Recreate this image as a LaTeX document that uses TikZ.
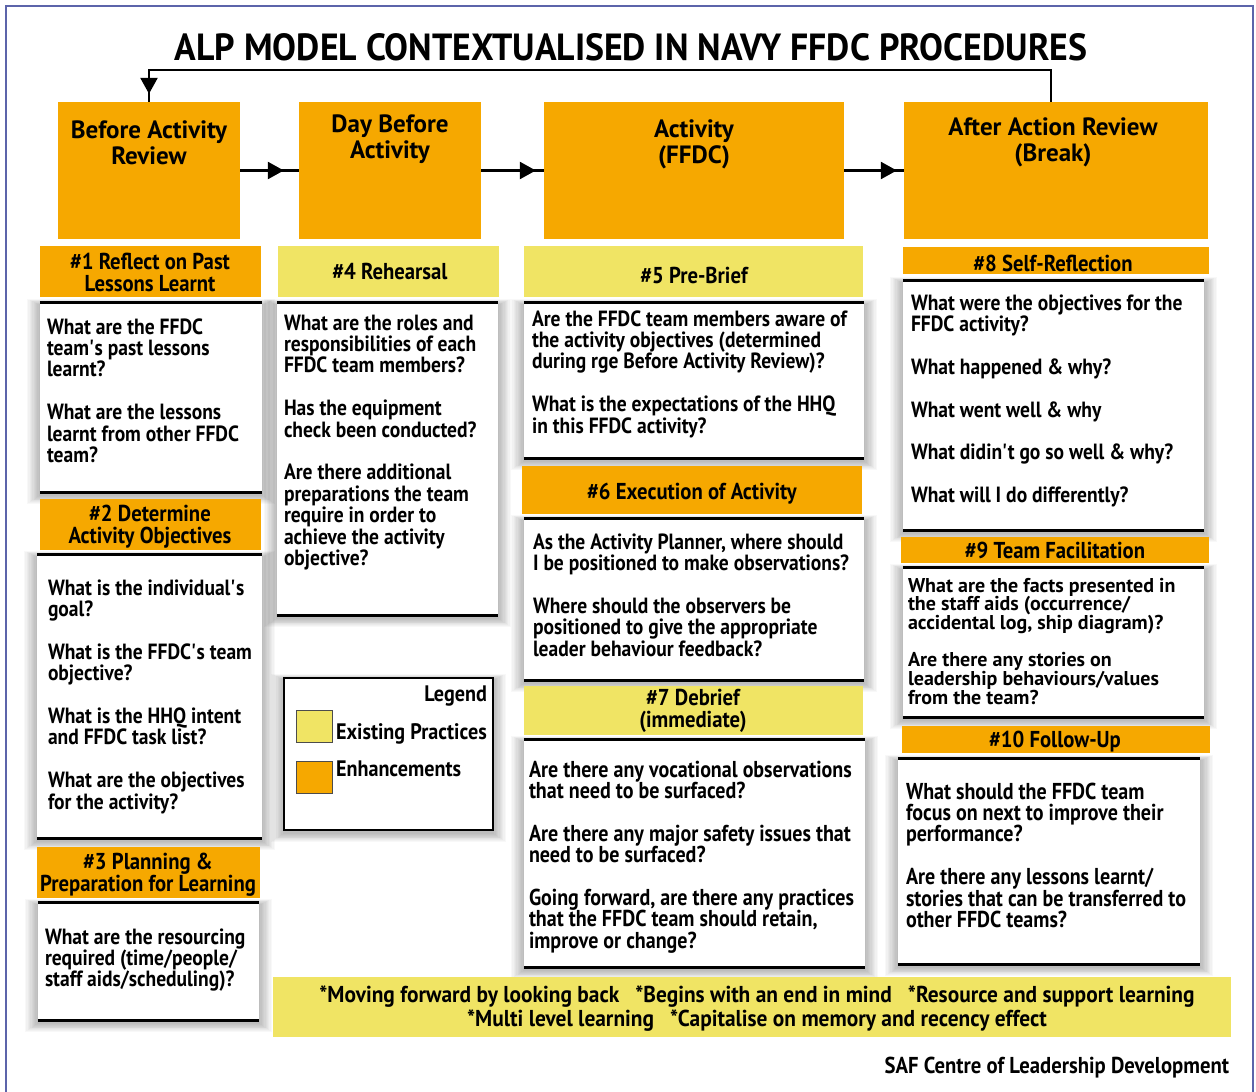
\documentclass[tikz,border=0pt]{standalone}
\usepackage{fontspec}
\setmainfont{PT Sans}[FakeStretch=0.888]
\newfontfamily\bodyfam{PT Sans}[FakeStretch=0.888]
\newfontfamily\tightfam{PT Sans}[FakeStretch=1.0]
\newfontfamily\headfam{PT Sans}[FakeStretch=0.90]
\newfontfamily\topfam{PT Sans}[FakeStretch=1.0]
\newfontfamily\condfam{PT Sans}[FakeStretch=0.87]
\newfontfamily\bandfam{PT Sans}[FakeStretch=0.93]
\newfontfamily\footfam{PT Sans}[FakeStretch=0.90]
\usepackage{graphicx}
\usetikzlibrary{arrows.meta,decorations.markings}
\definecolor{orng}{RGB}{246,168,0}
\definecolor{yllw}{RGB}{240,228,100}
\definecolor{frm}{RGB}{92,100,170}
\newcommand\tq{\textquotesingle}
\newcommand\bodyfont{\bodyfam\fontsize{22}{21.4}\selectfont\bfseries\lineskiplimit=-100pt\relax}
\newcommand\tightfont{\tightfam\fontsize{20}{18.7}\selectfont\bfseries\lineskiplimit=-100pt\relax}
\newcommand\condbody{\condfam\fontsize{23}{21.4}\selectfont\bfseries\lineskiplimit=-100pt\relax}
\newcommand\headfont{\headfam\fontsize{23}{22}\selectfont\bfseries\lineskiplimit=-100pt\relax}
\newcommand\topfont{\topfam\fontsize{25}{26}\selectfont\bfseries\lineskiplimit=-100pt\relax}
\newcommand\legfont{\headfam\fontsize{22.4}{22}\selectfont\bfseries}
\newcommand\bandfont{\bandfam\fontsize{23}{24}\selectfont\bfseries\lineskiplimit=-100pt\relax}
\newcommand\footfont{\footfam\fontsize{23}{24}\selectfont\bfseries}
\tikzset{
  hdr/.style={rectangle, draw=none, inner sep=0pt},
  qfill/.style={rectangle, fill=white, draw=none, inner sep=0pt},
  rule/.style={line width=3pt, black},
  txt/.style={inner sep=0pt, outer sep=0pt},
  conn/.style={line width=2.5pt, black},
  arrowat/.style={postaction={decorate}, decoration={markings, mark=at position #1 with {\arrow{Triangle[length=16pt,width=17pt]}}}},
  frame/.style={line width=2pt, frm},
  legsq/.style={rectangle, draw=black!70, line width=0.8pt, inner sep=0pt, minimum width=36pt, minimum height=32pt}
}
% shadow
\newcommand\softshadow[4]{%
  \foreach \k in {1,...,10}{\fill[black,opacity=0.028] ({#1-\k*1.3},{#2+2-\k*0.6}) rectangle ({#3+\k*1.3},{#4+3+\k*0.9});}}
% body box: name x1 y1 x2 y2
\newcommand\qbox[5]{%
  \softshadow{#2}{#3}{#4}{#5}
  \node[qfill, minimum width={#4-#2}, minimum height={#5-#3}] (#1) at ({(#2+#4)/2},{(#3+#5)/2}) {};
  \draw[rule] (#1.north west) -- (#1.north east);
  \draw[rule] (#1.south west) -- (#1.south east);}
% header: name color x1 y1 x2 y2
\newcommand\hdrbox[6]{%
  \node[hdr, fill=#2, minimum width={#5-#3}, minimum height={#6-#4}] (#1) at ({(#3+#5)/2},{(#4+#6)/2}) {};}
% texts
\newcommand\ltext[5]{\node[txt, anchor=base west] (#1) at (#2,#3) {\parbox[t]{420pt}{\raggedright #4 #5}};}
\newcommand\ctext[5]{\node[txt, anchor=base] (#1) at (#2,#3) {\parbox[t]{1100pt}{\centering #4 #5}};}

\begin{document}
\begin{tikzpicture}[x=1pt,y=-1pt]
\useasboundingbox (0,0) rectangle (1256,1092);
\fill[white] (0,0) rectangle (1256,1092);
\draw[frame] (6,1110) -- (6,6) -- (1253,6) -- (1253,1110);

% title
\node[txt, anchor=base] (title) at (631,60) {\resizebox{912pt}{27pt}{\bfseries ALP MODEL CONTEXTUALISED IN NAVY FFDC PROCEDURES}};

% top boxes
\hdrbox{bar}{orng}{58}{102}{240}{239}
\hdrbox{dba}{orng}{299}{102}{481}{239}
\hdrbox{act}{orng}{544}{102}{844}{239}
\hdrbox{aar}{orng}{904}{102}{1208}{239}
\ctext{tbar}{149}{138}{\topfont}{Before Activity\\Review}
\ctext{tdba}{390}{132}{\topfont}{Day Before\\Activity}
\ctext{tact}{694}{137}{\topfont}{Activity\\(FFDC)}
\ctext{taar}{1053}{135}{\topfont}{After Action Review\\(Break)}

% connectors
\draw[conn, arrowat=-15pt] (bar.east) -- (dba.west);
\draw[conn, arrowat=-8pt] (dba.east) -- (act.west);
\draw[conn, arrowat=-7pt] (act.east) -- (aar.west);
\draw[conn, arrowat=-8pt] ([xshift=-5pt]aar.north) -- ++(0,-32) -| (bar.north);

% body boxes (shadows + white)
\qbox{b1}{40}{303}{262}{492}
\qbox{b2}{37}{555}{262}{838}
\qbox{b3}{38}{903}{259}{1020}
\qbox{b4}{277}{303}{498}{615}
\qbox{b5}{524}{303}{864}{458}
\qbox{b6}{524}{519}{864}{680}
\qbox{b7}{524}{740}{865}{967}
\qbox{b8}{903}{281}{1204}{530}
\qbox{b9}{903}{568}{1204}{717}
\qbox{b10}{898}{759}{1200}{964}

% legend
\softshadow{284}{678}{493}{830}
\node[rectangle, fill=white, draw=black, line width=1.5pt, inner sep=0pt, minimum width=209pt, minimum height=152pt] (legend) at (388.5,754) {};
\node[legsq, fill=yllw] (sqy) at (314,726) {};
\node[legsq, fill=orng] (sqo) at (314,777) {};
\node[txt, anchor=base east] (legt) at (487,701) {\legfont Legend};
\node[txt, anchor=base west] (leg1) at (336,739) {\legfont Existing Practices};
\node[txt, anchor=base west] (leg2) at (336,776) {\legfont Enhancements};

% headers
\hdrbox{h1}{orng}{40}{246}{261}{297}
\hdrbox{h2}{orng}{40}{499}{261}{550}
\hdrbox{h3}{orng}{37}{847}{260}{898}
\hdrbox{h4}{yllw}{278}{246}{499}{297}
\hdrbox{h5}{yllw}{524}{246}{863}{297}
\hdrbox{h6}{orng}{522}{466}{862}{514}
\hdrbox{h7}{yllw}{524}{686}{863}{735}
\hdrbox{h8}{orng}{903}{247}{1209}{274}
\hdrbox{h9}{orng}{901}{537}{1209}{563}
\hdrbox{h10}{orng}{902}{726}{1210}{753}

\ctext{th1}{150}{269}{\headfont}{\#1 Reflect on Past\\Lessons Learnt}
\ctext{th2}{150}{521}{\headfont}{\#2 Determine\\Activity Objectives}
\ctext{th3}{148}{869}{\headfont}{\#3 Planning \&\\Preparation for Learning}
\ctext{th4}{390}{279}{\headfont}{\#4 Rehearsal}
\ctext{th5}{694}{283}{\headfont}{\#5 Pre-Brief}
\ctext{th6}{692}{499}{\headfont}{\#6 Execution of Activity}
\ctext{th7}{693}{705}{\headfont}{\#7 Debrief\\(immediate)}
\ctext{th8}{1053}{271}{\headfont}{\#8 Self-Reflection}
\ctext{th9}{1055}{558}{\headfont}{\#9 Team Facilitation}
\ctext{th10}{1055}{747}{\headfont}{\#10 Follow-Up}

% body texts
\ltext{q1}{47}{334}{\bodyfont}{What are the FFDC\\team\tq s past lessons\\learnt?\\[21.4pt]What are the lessons\\learnt from other FFDC\\team?}
\ltext{q2}{48}{595}{\bodyfont}{What is the individual\tq s\\goal?\\[21.4pt]What is the FFDC\tq s team\\objective?\\[21.4pt]What is the HHQ intent\\and FFDC task list?\\[21.4pt]What are the objectives\\for the activity?}
\ltext{q3}{45}{944}{\bodyfont}{What are the resourcing\\required (time/people/\\staff aids/scheduling)?}
\ltext{q4}{284}{330}{\bodyfont}{What are the roles and\\responsibilities of each\\FFDC team members?\\[21.4pt]Has the equipment\\check been conducted?\\[21.4pt]Are there additional\\preparations the team\\require in order to\\achieve the activity\\objective?}
\ltext{q5}{532}{326}{\bodyfont}{Are the FFDC team members aware of\\the activity objectives (determined\\during rge Before Activity Review)?\\[21.4pt]What is the expectations of the HHQ\\in this FFDC activity?}
\ltext{q6}{533}{549}{\bodyfont}{As the Activity Planner, where should\\I be positioned to make observations?\\[21.4pt]Where should the observers be\\positioned to give the appropriate\\leader behaviour feedback?}
\ltext{q7}{529}{777}{\condbody}{Are there any vocational observations\\that need to be surfaced?\\[21.4pt]Are there any major safety issues that\\need to be surfaced?\\[21.4pt]Going forward, are there any practices\\that the FFDC team should retain,\\improve or change?}
\ltext{q8}{911}{310}{\bodyfont}{What were the objectives for the\\FFDC activity?\\[21.4pt]What happened \& why?\\[21.4pt]What went well \& why\\[21.4pt]What didin\tq t go so well \& why?\\[21.4pt]What will I do differently?}
\ltext{q9}{908}{592}{\tightfont}{What are the facts presented in\\the staff aids (occurrence/\\accidental log, ship diagram)?\\[18.5pt]Are there any stories on\\leadership behaviours/values\\from the team?}
\ltext{q10}{906}{799}{\condbody}{What should the FFDC team\\focus on next to improve their\\performance?\\[21.4pt]Are there any lessons learnt/\\stories that can be transferred to\\other FFDC teams?}

% bottom band
\hdrbox{band}{yllw}{273}{977}{1231}{1037}
\ctext{tband}{757}{1002}{\bandfont}{*Moving forward by looking back\hspace{16pt}*Begins with an end in mind\hspace{16pt}*Resource and support learning\\{}*Multi level learning\hspace{16pt}*Capitalise on memory and recency effect}

% footer
\node[txt, anchor=base east] (footer) at (1229,1073) {\footfont SAF Centre of Leadership Development};
\end{tikzpicture}
\end{document}
